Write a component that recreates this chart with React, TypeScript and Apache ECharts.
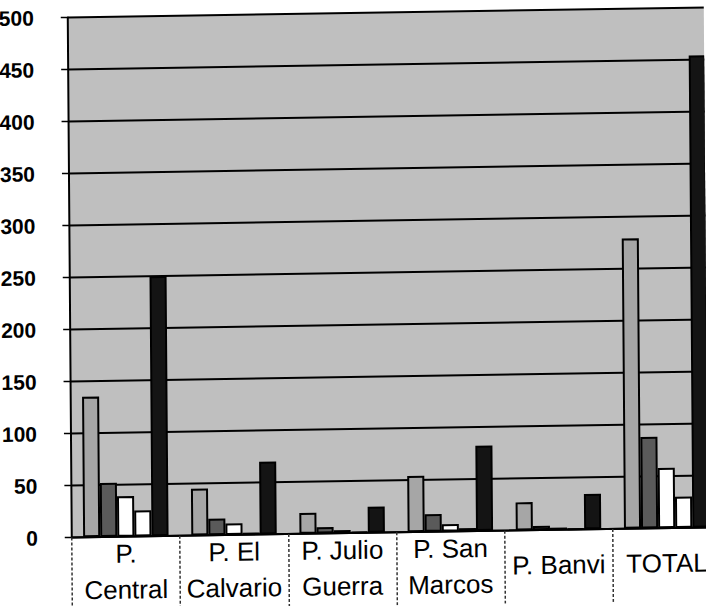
import { useEffect, useRef } from "react";
import * as echarts from "echarts";

// Categories along the x axis (line breaks as printed)
const categories = [
  "P.\nCentral",
  "P. El\nCalvario",
  "P. Julio\nGuerra",
  "P. San\nMarcos",
  "P. Banvi",
  "TOTAL",
];

// Five series per park, drawn left to right inside each group
const seriesLightGrey = [135, 45, 20, 54, 27, 279];
const seriesDarkGrey = [52, 16, 6, 17, 4, 88];
const seriesWhiteA = [39, 11, 3, 7, 2, 58];
const seriesWhiteB = [25, 2, 1, 3, 1, 30];
const seriesBlack = [250, 70, 25, 82, 34, 454];

// Value axis range
const yMin = 0;
const yMax = 500;
const yStep = 50;

export default function App() {
  const ref = useRef<HTMLDivElement>(null);

  useEffect(() => {
    if (!ref.current) return;
    const chart = echarts.init(ref.current, null, { renderer: "svg" });

    const bar = (name: string, data: number[], color: string) => ({
      type: "bar",
      name,
      data,
      barGap: "0%",
      barCategoryGap: "21%",
      itemStyle: { color, borderColor: "#000", borderWidth: 2 },
    });

    chart.setOption({
      animation: false,
      backgroundColor: "#ffffff",
      grid: {
        left: 70,
        right: -13,
        top: 13,
        bottom: 73,
        containLabel: false,
        outerBoundsMode: "none",
        show: true,
        backgroundColor: "#bfbfbf",
        borderWidth: 0,
      },
      xAxis: {
        type: "category",
        data: categories,
        axisLine: { lineStyle: { color: "#000", width: 2 } },
        axisTick: {
          show: true,
          length: 75,
          lineStyle: { color: "#333", width: 1.5, type: [3, 2] },
        },
        axisLabel: {
          interval: 0,
          margin: 35,
          verticalAlign: "middle",
          fontSize: 26,
          lineHeight: 36,
          color: "#000",
          fontFamily: "Liberation Sans",
        },
      },
      yAxis: {
        type: "value",
        min: yMin,
        max: yMax,
        interval: yStep,
        axisLine: { show: true, lineStyle: { color: "#000", width: 2 } },
        axisTick: { show: true, length: 7, lineStyle: { color: "#000", width: 1.5 } },
        splitLine: { show: true, lineStyle: { color: "#000", width: 2 } },
        axisLabel: {
          margin: 34,
          fontSize: 21,
          fontWeight: "bold",
          color: "#000",
          fontFamily: "Liberation Sans",
        },
      },
      series: [
        bar("Serie 1", seriesLightGrey, "#a6a6a6"),
        bar("Serie 2", seriesDarkGrey, "#5a5a5a"),
        bar("Serie 3", seriesWhiteA, "#ffffff"),
        bar("Serie 4", seriesWhiteB, "#ffffff"),
        bar("Serie 5", seriesBlack, "#141414"),
      ],
    });

    return () => chart.dispose();
  }, []);

  return (
    <div
      style={{
        position: "absolute",
        left: 0,
        top: 0,
        width: 706,
        height: 606,
        overflow: "hidden",
        background: "#fff",
      }}
    >
      <div
        ref={ref}
        style={{
          width: 706,
          height: 606,
          transform: "matrix(1, -0.0157, 0.0077, 1, 0, 0)",
          transformOrigin: "353px 303px",
        }}
      />
    </div>
  );
}
